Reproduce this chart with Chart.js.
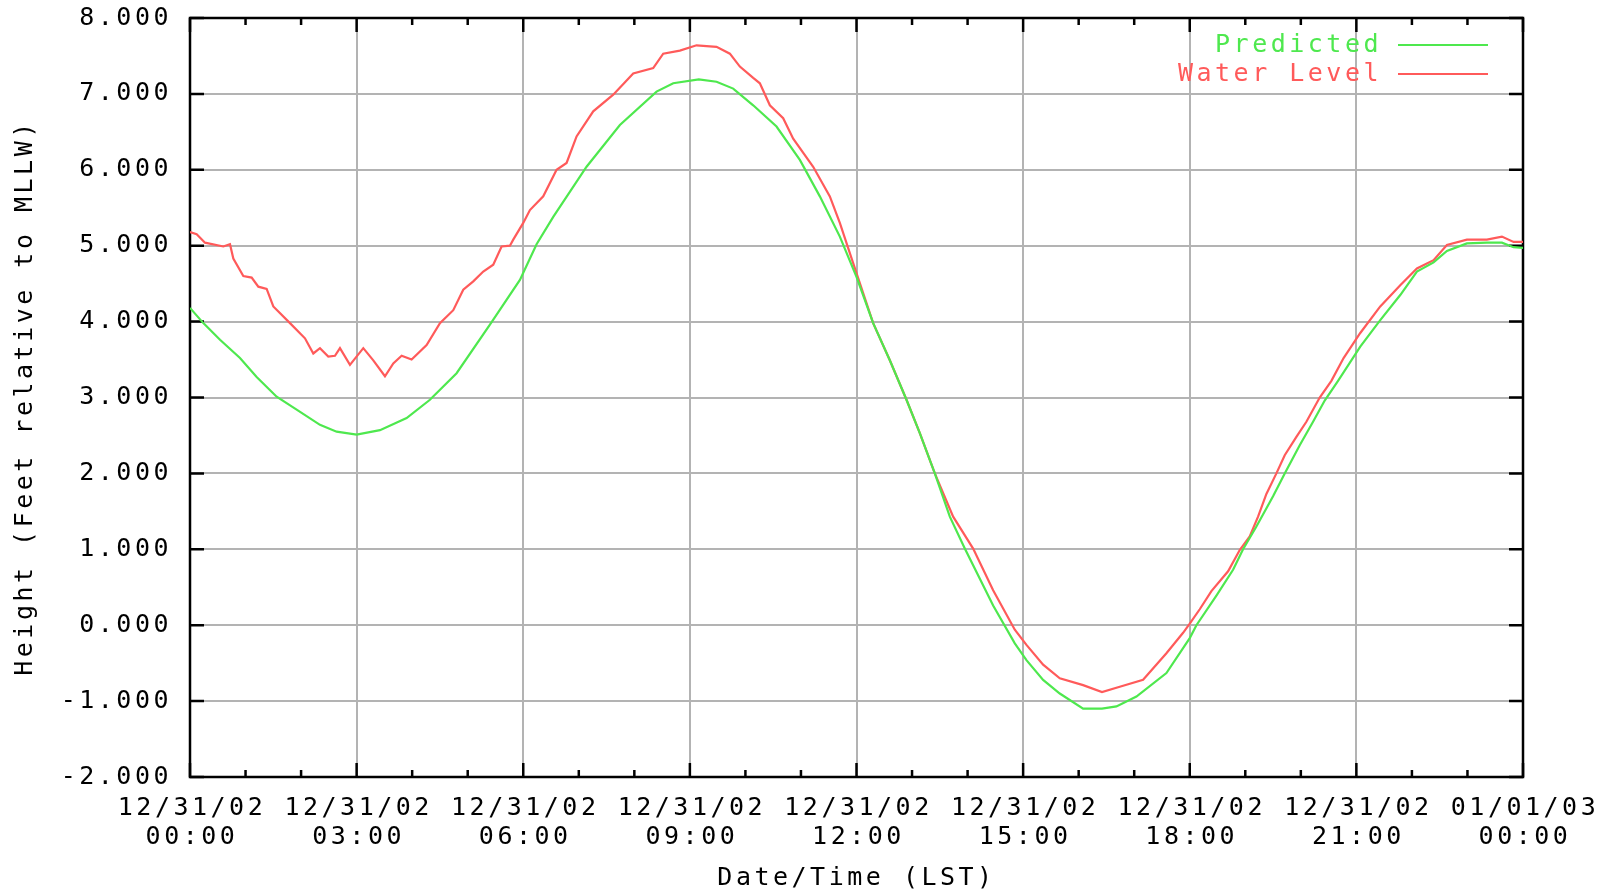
<!DOCTYPE html>
<html><head><meta charset="utf-8">
<script src="https://cdn.jsdelivr.net/npm/chart.js@4.4.0/dist/chart.umd.min.js"></script>
<style>html,body{margin:0;padding:0;background:#fff;overflow:hidden}canvas{display:block}</style>
</head><body>
<canvas id="c" width="1601" height="891"></canvas>
<script>
// ---- data (hours since 12/31/02 00:00 LST, feet relative to MLLW)
const predictedHours = [0,0.24,0.54,0.9,1.2,1.56,1.92,2.34,2.64,3.0,3.42,3.9,4.32,4.8,5.4,5.94,6.24,6.54,7.14,7.74,8.4,8.7,9.16,9.48,9.78,10.14,10.56,10.98,11.34,11.7,12.0,12.3,12.6,12.9,13.14,13.41,13.68,13.95,14.46,14.85,15.06,15.36,15.66,16.08,16.42,16.68,17.04,17.58,18.0,18.12,18.48,18.78,18.96,19.2,19.5,19.71,19.98,20.22,20.43,20.67,21.07,21.43,21.79,22.09,22.39,22.63,22.99,23.35,23.62,23.83,24.0];
const predictedFeet = [4.18,3.98,3.76,3.52,3.27,3.01,2.84,2.64,2.55,2.51,2.57,2.73,2.97,3.32,3.96,4.55,5.02,5.38,6.04,6.59,7.03,7.14,7.19,7.16,7.07,6.85,6.57,6.13,5.65,5.12,4.59,3.98,3.49,2.97,2.53,2.0,1.43,1.01,0.26,-0.24,-0.46,-0.72,-0.9,-1.1,-1.1,-1.07,-0.94,-0.63,-0.17,0.0,0.39,0.73,1.0,1.3,1.7,2.0,2.37,2.68,2.96,3.22,3.67,4.02,4.35,4.66,4.78,4.93,5.03,5.04,5.04,4.98,4.97];
const waterHours = [0,0.12,0.27,0.6,0.72,0.78,0.96,1.11,1.23,1.38,1.5,1.8,2.07,2.22,2.34,2.49,2.61,2.7,2.88,3.12,3.3,3.51,3.66,3.81,3.99,4.26,4.5,4.74,4.92,5.1,5.28,5.46,5.61,5.76,5.82,6.0,6.12,6.36,6.6,6.78,6.96,7.26,7.62,7.98,8.34,8.52,8.82,9.12,9.48,9.72,9.9,10.14,10.26,10.44,10.68,10.86,11.22,11.52,11.7,11.94,12.3,12.6,12.9,13.14,13.41,13.74,14.1,14.46,14.85,15.06,15.36,15.66,16.08,16.42,16.74,17.16,17.58,17.88,18.0,18.18,18.39,18.69,18.9,19.08,19.23,19.38,19.56,19.71,19.92,20.1,20.34,20.55,20.77,21.07,21.43,21.79,22.09,22.39,22.63,22.99,23.35,23.62,23.83,24.0];
const waterFeet = [5.18,5.15,5.04,4.99,5.02,4.83,4.60,4.58,4.46,4.43,4.20,3.98,3.78,3.58,3.65,3.54,3.55,3.65,3.43,3.65,3.49,3.28,3.45,3.55,3.50,3.69,3.98,4.15,4.42,4.53,4.66,4.75,4.99,5.0,5.08,5.30,5.47,5.65,6.0,6.09,6.44,6.77,6.99,7.27,7.34,7.53,7.57,7.64,7.62,7.53,7.36,7.21,7.14,6.85,6.68,6.41,6.04,5.65,5.30,4.77,3.98,3.49,2.97,2.53,2.0,1.43,1.01,0.46,-0.06,-0.26,-0.52,-0.70,-0.79,-0.88,-0.81,-0.72,-0.37,-0.1,0.02,0.21,0.45,0.71,0.99,1.17,1.43,1.73,2.0,2.24,2.48,2.68,3.0,3.22,3.52,3.85,4.20,4.48,4.70,4.81,5.01,5.08,5.08,5.12,5.05,5.05];
const xTickHours = [0,3,6,9,12,15,18,21,24];
const xTickDates = ['12/31/02','12/31/02','12/31/02','12/31/02','12/31/02','12/31/02','12/31/02','12/31/02','01/01/03'];
const xTickTimes = ['00:00','03:00','06:00','09:00','12:00','15:00','18:00','21:00','00:00'];
const seriesLabels = ['Predicted','Water Level'];
const seriesColors = ['#4ee84e','#ff5a5a'];

const FONT = "'DejaVu Sans Mono', monospace";
const LS = '3.5px';

const spacingPlugin = {
  id: 'spacing',
  beforeUpdate(chart){ chart.ctx.letterSpacing = LS; },
  beforeLayout(chart){ chart.ctx.letterSpacing = LS; },
  beforeDraw(chart){ chart.ctx.letterSpacing = LS; }
};

const framePlugin = {
  id: 'frame',
  beforeDatasetsDraw(chart){
    const {ctx, chartArea:a, scales} = chart;
    ctx.save();
    ctx.strokeStyle = '#000';
    ctx.lineWidth = 2.5;
    ctx.beginPath();
    scales.x.ticks.forEach(t => {
      const px = scales.x.getPixelForValue(t.value);
      const len = (t.value % 3 === 0) ? 14 : 7;
      ctx.moveTo(px, a.bottom); ctx.lineTo(px, a.bottom - len);
      ctx.moveTo(px, a.top); ctx.lineTo(px, a.top + len);
    });
    scales.y.ticks.forEach(t => {
      const py = scales.y.getPixelForValue(t.value);
      ctx.moveTo(a.left, py); ctx.lineTo(a.left + 14, py);
      ctx.moveTo(a.right, py); ctx.lineTo(a.right - 14, py);
    });
    ctx.stroke();
    ctx.strokeRect(a.left, a.top, a.right - a.left, a.bottom - a.top);
    ctx.restore();
  }
};

const legendPlugin = {
  id: 'rightLegend',
  afterDatasetsDraw(chart){
    const {ctx, chartArea:a} = chart;
    ctx.save();
    ctx.font = '25px ' + FONT;
    ctx.letterSpacing = LS;
    ctx.textAlign = 'right';
    ctx.textBaseline = 'middle';
    chart.data.datasets.forEach((ds, i) => {
      const y = a.top + 27 + i * 29;
      ctx.fillStyle = ds.borderColor;
      ctx.fillText(ds.label, a.right - 141, y);
      ctx.strokeStyle = ds.borderColor;
      ctx.lineWidth = 2.2;
      ctx.beginPath();
      ctx.moveTo(a.right - 125, y); ctx.lineTo(a.right - 35, y);
      ctx.stroke();
    });
    ctx.restore();
  }
};

new Chart(document.getElementById('c'), {
  type: 'line',
  data: {
    datasets: [
      { label: seriesLabels[0], data: predictedHours.map((h,i)=>({x:h, y:predictedFeet[i]})),
        borderColor: seriesColors[0], borderWidth: 2.2, pointRadius: 0, tension: 0, fill: false },
      { label: seriesLabels[1], data: waterHours.map((h,i)=>({x:h, y:waterFeet[i]})),
        borderColor: seriesColors[1], borderWidth: 2.2, pointRadius: 0, tension: 0, fill: false }
    ]
  },
  options: {
    responsive: false,
    animation: false,
    devicePixelRatio: 1,
    layout: { padding: { top: 18, right: 78, left: 0, bottom: 0 } },
    plugins: { legend: { display: false }, tooltip: { enabled: false } },
    scales: {
      x: {
        type: 'linear', min: 0, max: 24,
        afterFit(s){ s.height = 114; s.paddingLeft = 0; s.paddingRight = 0; },
        border: { display: false },
        grid: {
          drawTicks: false, lineWidth: 2,
          color: c => (c.tick && c.tick.value % 3 === 0) ? '#b3b3b3' : 'rgba(0,0,0,0)'
        },
        ticks: {
          stepSize: 1, autoSkip: false, maxRotation: 0, minRotation: 0,
          padding: 16.5, labelOffset: 2,
          color: '#000', font: { family: FONT, size: 25, lineHeight: 1.16 },
          callback: v => { const i = xTickHours.indexOf(v); return i >= 0 ? [xTickDates[i], xTickTimes[i]] : ''; }
        },
        title: { display: true, text: 'Date/Time (LST)', color: '#000',
          font: { family: FONT, size: 25, lineHeight: 1 }, padding: { top: 0, bottom: 0 } }
      },
      y: {
        min: -2, max: 8,
        afterFit(s){ s.width = 190; s.paddingTop = 0; s.paddingBottom = 0; },
        border: { display: false },
        grid: { drawTicks: false, lineWidth: 2, color: '#b3b3b3' },
        ticks: { stepSize: 1, padding: 18, color: '#000',
          font: { family: FONT, size: 25 },
          callback: v => v.toFixed(3) },
        title: { display: true, text: 'Height (Feet relative to MLLW)', color: '#000',
          font: { family: FONT, size: 25, lineHeight: 1 }, padding: { top: 13, bottom: 0 } }
      }
    }
  },
  plugins: [spacingPlugin, framePlugin, legendPlugin]
});
</script>
</body></html>
